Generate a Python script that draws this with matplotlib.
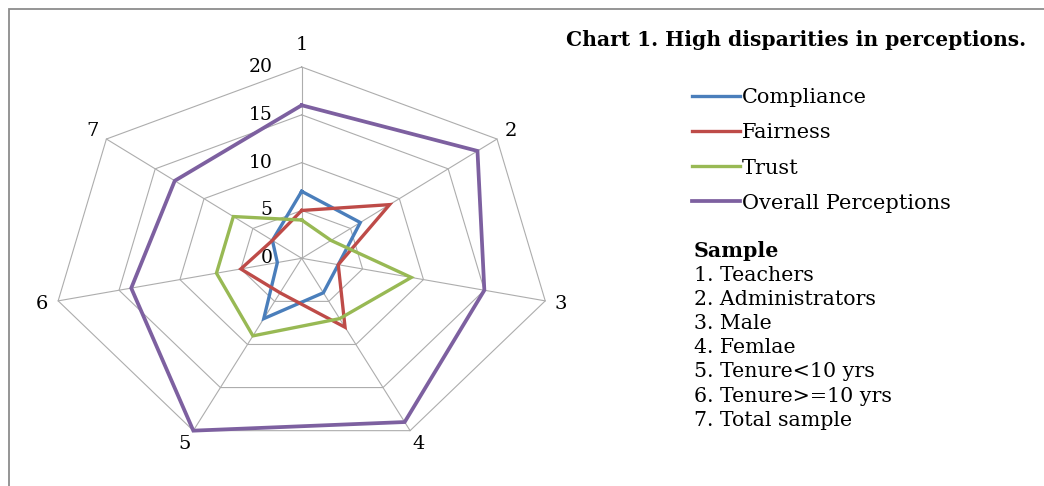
import numpy as np
import matplotlib
matplotlib.use("Agg")
import matplotlib.pyplot as plt
from matplotlib.transforms import offset_copy
from matplotlib.patches import Rectangle

# ---- data -------------------------------------------------------------
categories = ["1", "2", "3", "4", "5", "6", "7"]
sample_groups = ["Teachers", "Administrators", "Male", "Femlae",
                 "Tenure<10 yrs", "Tenure>=10 yrs", "Total sample"]
compliance = [7, 6, 3, 4, 7, 2, 3]
fairness = [5, 9, 3, 8, 4, 5, 3]
trust = [4, 3, 9, 7, 9, 7, 7]
overall = [16, 18, 15, 19, 20, 14, 13]
series_names = ["Compliance", "Fairness", "Trust", "Overall Perceptions"]
radial_ticks = [0, 5, 10, 15, 20]
title = "Chart 1. High disparities in perceptions."

series_values = [compliance, fairness, trust, overall]
series_colors = ["#4A7EBB", "#BE4B48", "#98B954", "#7D60A0"]
series_widths = [2.4, 2.4, 2.4, 2.7]

FONT = "DejaVu Serif"
W, H = 1044, 486
fig = plt.figure(figsize=(W / 100, H / 100), dpi=100)

# outer frame, open to the right and bottom
fig.add_artist(Rectangle((9 / W, -0.2), 1.5, (H - 9) / H + 0.2,
                         transform=fig.transFigure, fill=False,
                         ec="#8c8c8c", lw=1.3))

# polar axes stretched horizontally (aspect released)
cx, cy = 301.7, 258.3
rx, ry = 249.8, 191.3
ax = fig.add_axes([(cx - rx) / W, (H - cy - ry) / H, 2 * rx / W, 2 * ry / H],
                  projection="polar")
ax.set_aspect("auto")
ax.set_theta_zero_location("N")
ax.set_theta_direction(-1)
ax.set_ylim(0, radial_ticks[-1])
ax.grid(False)
ax.spines["polar"].set_visible(False)
ax.set_xticks([])
ax.set_yticks([])
ax.patch.set_visible(False)

n = len(categories)
theta = np.linspace(0, 2 * np.pi, n, endpoint=False)
closed = np.append(theta, theta[0])

grid_color = "#adadad"
for r in radial_ticks[1:]:
    ax.plot(closed, [r] * (n + 1), color=grid_color, lw=0.8, zorder=1,
            clip_on=False)
for t in theta:
    ax.plot([t, t], [0, radial_ticks[-1]], color=grid_color, lw=0.8,
            zorder=1, clip_on=False)

handles = []
for vals, col, lw, name in zip(series_values, series_colors, series_widths,
                               series_names):
    ln, = ax.plot(closed, list(vals) + [vals[0]], color=col, lw=lw,
                  zorder=3, clip_on=False, solid_joinstyle="miter",
                  label=name)
    handles.append(ln)

# radial value labels, left of the first spoke
tick_tr = offset_copy(ax.transData, fig=fig, x=-29, y=0, units="dots")
for r in radial_ticks:
    ax.text(0, r, str(r), transform=tick_tr, ha="right", va="center",
            family=FONT, fontsize=13.5, color="black", zorder=4)

# category labels outside the outer ring
fig.canvas.draw()
for t, lab in zip(theta, categories):
    p0 = ax.transData.transform((t, 0))
    p1 = ax.transData.transform((t, radial_ticks[-1]))
    d = (p1 - p0) / np.hypot(*(p1 - p0))
    dist = 16 + 6 * max(0.0, np.cos(t)) ** 6
    tr = offset_copy(ax.transData, fig=fig, x=d[0] * dist, y=d[1] * dist,
                     units="dots")
    ax.text(t, radial_ticks[-1], lab, transform=tr, ha="center",
            va="center", family=FONT, fontsize=14, color="black")

# title
fig.text(566 / W, 1 - 40 / H, title, ha="left", va="center",
         family=FONT, fontweight="bold", fontsize=14.6)

# legend
fig.legend(handles=handles, loc="upper left",
           bbox_to_anchor=(692 / W, 1 - 88 / H), frameon=False,
           prop={"family": FONT, "size": 15}, handlelength=2.3,
           handletextpad=0.1, labelspacing=0.78, borderpad=0,
           borderaxespad=0)

# sample key
fig.text(694 / W, 1 - 251 / H, "Sample", ha="left", va="center",
         family=FONT, fontweight="bold", fontsize=14.8)
for i, (num, grp) in enumerate(zip(categories, sample_groups)):
    fig.text(694 / W, 1 - (275 + 24.2 * i) / H, f"{num}. {grp}",
             ha="left", va="center", family=FONT, fontsize=14.8)

fig.savefig("out.png", dpi=100)
